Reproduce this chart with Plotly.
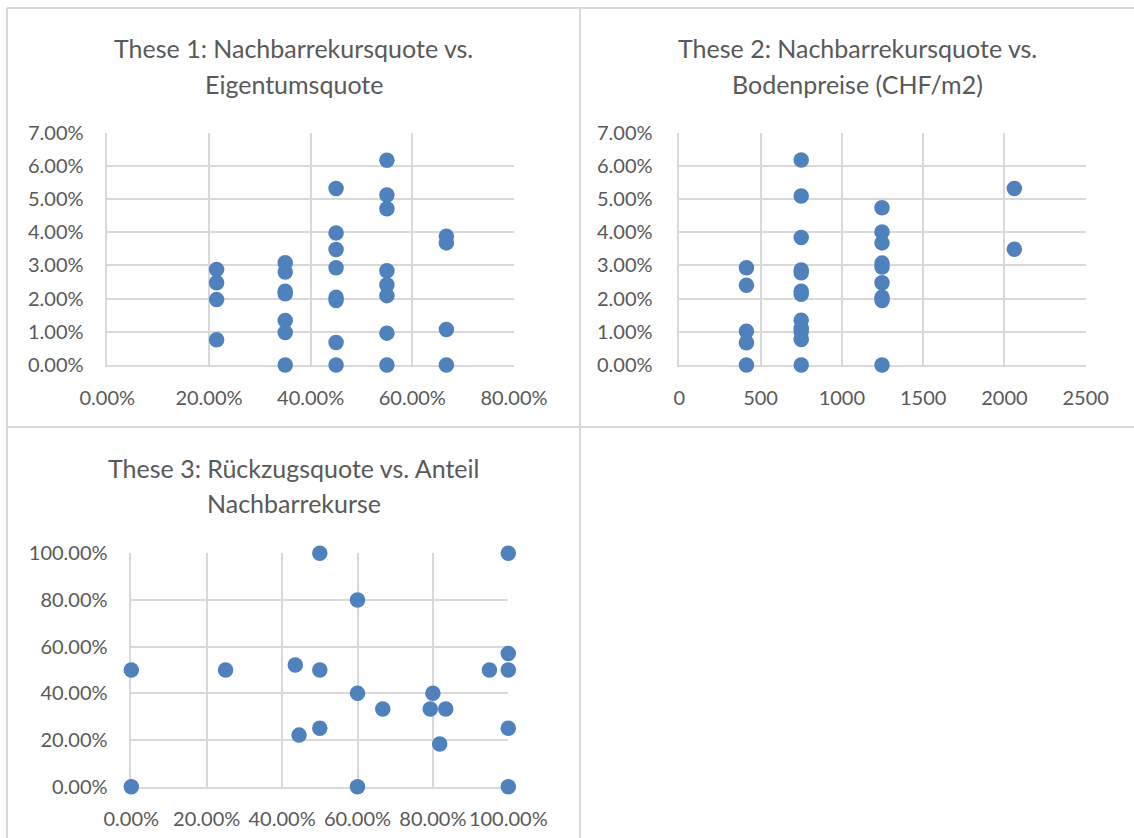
import plotly.graph_objects as go

# ---------------- data ----------------
# These 1: Nachbarrekursquote vs. Eigentumsquote
t1_eigentumsquote = [0.215, 0.215, 0.215, 0.215,
                     0.35, 0.35, 0.35, 0.35, 0.35, 0.35, 0.35,
                     0.45, 0.45, 0.45, 0.45, 0.45, 0.45, 0.45, 0.45,
                     0.55, 0.55, 0.55, 0.55, 0.55, 0.55, 0.55, 0.55,
                     0.667, 0.667, 0.667, 0.667]
t1_nachbarrekursquote = [0.0288, 0.0248, 0.0197, 0.0076,
                         0.0308, 0.0280, 0.0222, 0.0215, 0.0134, 0.0098, 0.0,
                         0.0532, 0.0398, 0.0348, 0.0293, 0.0204, 0.0194, 0.0068, 0.0,
                         0.0617, 0.0512, 0.0471, 0.0284, 0.0242, 0.0209, 0.0096, 0.0,
                         0.0388, 0.0368, 0.0107, 0.0]

# These 2: Nachbarrekursquote vs. Bodenpreise (CHF/m2)
t2_bodenpreise = [413, 413, 413, 413, 413,
                  750, 750, 750, 750, 750, 750, 750, 750, 750, 750, 750, 750,
                  1247, 1247, 1247, 1247, 1247, 1247, 1247, 1247, 1247,
                  2061, 2061]
t2_nachbarrekursquote = [0.0293, 0.0240, 0.0102, 0.0067, 0.0,
                         0.0618, 0.0509, 0.0384, 0.0286, 0.0278, 0.0222, 0.0213, 0.0135, 0.0110, 0.0100, 0.0077, 0.0,
                         0.0474, 0.0401, 0.0368, 0.0307, 0.0295, 0.0248, 0.0204, 0.0194, 0.0,
                         0.0532, 0.0349]

# These 3: Rückzugsquote vs. Anteil Nachbarrekurse
t3_anteil_nachbarrekurse = [0.0, 0.0, 0.25, 0.435, 0.445, 0.50, 0.50, 0.50,
                            0.60, 0.60, 0.60, 0.667, 0.793, 0.80, 0.818, 0.834,
                            0.95, 1.0, 1.0, 1.0, 1.0, 1.0]
t3_rueckzugsquote = [0.50, 0.0, 0.50, 0.521, 0.221, 1.0, 0.50, 0.25,
                     0.80, 0.40, 0.0, 0.333, 0.333, 0.40, 0.183, 0.333,
                     0.50, 1.0, 0.571, 0.50, 0.25, 0.0]

titles = [["These 1: Nachbarrekursquote vs.", "Eigentumsquote"],
          ["These 2: Nachbarrekursquote vs.", "Bodenpreise (CHF/m2)"],
          ["These 3: Rückzugsquote vs. Anteil", "Nachbarrekurse"]]

# ---------------- layout helpers ----------------
W, H = 1134, 838
FONT = "Lato"
TXT = "#595959"
GRID = "#d9d9d9"
BLUE = "#4F81BD"


def xd(a, b):
    return [a / W, b / W]


def yd(top, bottom):
    return [1 - bottom / H, 1 - top / H]


fig = go.Figure()

series = [(t1_eigentumsquote, t1_nachbarrekursquote, "x", "y"),
          (t2_bodenpreise, t2_nachbarrekursquote, "x2", "y2"),
          (t3_anteil_nachbarrekurse, t3_rueckzugsquote, "x3", "y3")]
for xs, ys, xa, ya in series:
    fig.add_trace(go.Scatter(x=xs, y=ys, xaxis=xa, yaxis=ya, mode="markers",
                             marker=dict(size=15.5, color=BLUE, line=dict(width=0)),
                             cliponaxis=False, showlegend=False,
                             hoverinfo="x+y"))

axis_common = dict(showgrid=True, gridcolor=GRID, gridwidth=1.5, zeroline=False,
                   showline=True, linecolor=GRID, linewidth=1.5, mirror=False,
                   ticks="outside", tickcolor="rgba(0,0,0,0)", tickangle=0,
                   automargin=False, layer="below traces",
                   tickfont=dict(family=FONT, size=20, color=TXT), fixedrange=True)

fig.update_layout(
    template="none",
    width=W, height=H, margin=dict(l=0, r=0, t=0, b=0, autoexpand=False),
    paper_bgcolor="white", plot_bgcolor="white",
    xaxis=dict(domain=xd(107.3, 514), range=[0, 0.8], dtick=0.2, tickformat=".2%",
               anchor="y", ticklen=14, **axis_common),
    yaxis=dict(domain=yd(132.7, 365), range=[0, 0.07], dtick=0.01, tickformat=".2%",
               anchor="x", ticklen=18, **axis_common),
    xaxis2=dict(domain=xd(679.3, 1085.7), range=[0, 2500], dtick=500, tickformat="d",
                anchor="y2", ticklen=14, **axis_common),
    yaxis2=dict(domain=yd(132.7, 365), range=[0, 0.07], dtick=0.01, tickformat=".2%",
                anchor="x2", ticklen=21, **axis_common),
    xaxis3=dict(domain=xd(131.3, 508.3), range=[0, 1.0], dtick=0.2, tickformat=".2%",
                anchor="y3", ticklen=14, **axis_common),
    yaxis3=dict(domain=yd(553.3, 786.7), range=[0, 1.0], dtick=0.2, tickformat=".2%",
                anchor="x3", ticklen=18, **axis_common),
)

# cell borders (Excel-like frame)
BORDER = "#d9d9d9"
lines = [(7, 8, W, 8), (7, 8, 7, H), (580, 8, 580, H), (7, 427, W, 427)]
for x0, y0, x1, y1 in lines:
    fig.add_shape(type="line", xref="paper", yref="paper",
                  x0=x0 / W, x1=x1 / W, y0=1 - y0 / H, y1=1 - y1 / H,
                  line=dict(color=BORDER, width=2))

# titles
title_pos = [(293.5, 48, 84), (857, 48, 84), (293.5, 468, 503)]
for (cx, y1, y2), (l1, l2) in zip(title_pos, titles):
    for txt, yy in ((l1, y1), (l2, y2)):
        fig.add_annotation(text=txt, xref="paper", yref="paper",
                           x=cx / W, y=1 - yy / H, xanchor="center", yanchor="middle",
                           showarrow=False, font=dict(family=FONT, size=25, color=TXT))

fig.write_html("out.html", config={"displayModeBar": False},
               post_script="document.body.style.margin='0px';document.body.style.overflow='hidden';")
